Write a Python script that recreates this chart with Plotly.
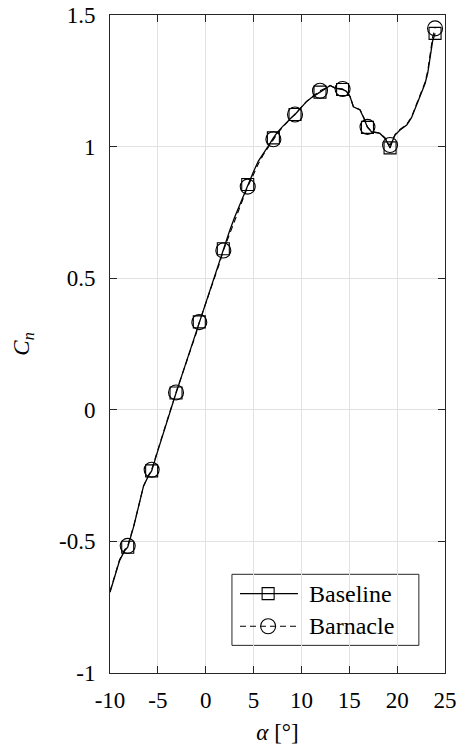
import plotly.graph_objects as go

# Normal-force coefficient vs angle of attack, sampled along the curves
alpha_base = [-10.0, -9.5, -9.0, -8.5, -8.15, -7.5, -7.0, -6.5, -6.0, -5.65,
              -5.0, -4.5, -4.0, -3.5, -3.1, -2.5, -2.0, -1.5, -1.0, -0.67,
              0.0, 0.5, 1.0, 1.5, 1.84, 2.5, 3.0, 3.5, 4.0, 4.39,
              5.0, 5.5, 6.0, 6.5, 7.07, 7.5, 8.0, 8.5, 9.0, 9.33,
              10.0, 10.5, 11.0, 11.5, 11.94, 12.5, 13.0, 13.5, 14.0, 14.3,
              14.7, 15.08, 15.43, 15.8, 16.12, 16.5, 16.9, 17.34, 17.8, 18.2,
              18.74, 19.0, 19.26, 19.5, 19.78, 20.3, 21.0, 21.5, 21.87, 22.4,
              22.92, 23.2, 23.44, 23.7, 23.96]
cn_base = [-0.693, -0.630, -0.573, -0.537, -0.522, -0.440, -0.360, -0.290, -0.252, -0.232,
           -0.155, -0.095, -0.040, 0.020, 0.064, 0.130, 0.185, 0.240, 0.295, 0.334,
           0.410, 0.465, 0.520, 0.575, 0.612, 0.680, 0.730, 0.775, 0.820, 0.856,
           0.905, 0.945, 0.975, 1.000, 1.033, 1.055, 1.075, 1.095, 1.112, 1.122,
           1.150, 1.170, 1.185, 1.198, 1.207, 1.220, 1.232, 1.222, 1.218, 1.217,
           1.210, 1.190, 1.151, 1.145, 1.139, 1.110, 1.073, 1.056, 1.052, 1.050,
           1.031, 1.010, 0.995, 1.020, 1.044, 1.063, 1.082, 1.110, 1.145, 1.190,
           1.240, 1.280, 1.335, 1.400, 1.430]

alpha_barn = [-10.0, -9.5, -9.0, -8.5, -8.15, -7.5, -7.0, -6.5, -6.0, -5.65,
              -5.0, -4.5, -4.0, -3.5, -3.1, -2.5, -2.0, -1.5, -1.0, -0.67,
              0.0, 0.5, 1.0, 1.5, 1.84, 2.5, 3.0, 3.5, 4.0, 4.39,
              5.0, 5.5, 6.0, 6.5, 7.07, 7.5, 8.0, 8.5, 9.0, 9.33,
              10.0, 10.5, 11.0, 11.5, 11.94, 12.5, 13.0, 13.5, 14.0, 14.3,
              14.7, 15.08, 15.43, 15.8, 16.12, 16.5, 16.9, 17.34, 17.8, 18.2,
              18.74, 19.0, 19.26, 19.5, 19.78, 20.3, 21.0, 21.5, 21.87, 22.4,
              22.92, 23.2, 23.44, 23.7, 23.96]
cn_barn = [-0.690, -0.628, -0.570, -0.533, -0.517, -0.438, -0.358, -0.290, -0.250, -0.228,
           -0.152, -0.093, -0.038, 0.022, 0.066, 0.130, 0.183, 0.237, 0.290, 0.333,
           0.402, 0.455, 0.508, 0.563, 0.605, 0.668, 0.718, 0.765, 0.810, 0.848,
           0.895, 0.935, 0.968, 0.996, 1.028, 1.050, 1.072, 1.092, 1.110, 1.122,
           1.150, 1.170, 1.186, 1.200, 1.212, 1.222, 1.232, 1.224, 1.220, 1.219,
           1.211, 1.190, 1.152, 1.146, 1.140, 1.112, 1.075, 1.058, 1.053, 1.051,
           1.033, 1.015, 1.006, 1.024, 1.046, 1.065, 1.084, 1.112, 1.148, 1.195,
           1.245, 1.288, 1.345, 1.415, 1.449]

# Angles at which the symbols are drawn
alpha_marks = [-8.15, -5.65, -3.1, -0.67, 1.84, 4.39, 7.07, 9.33, 11.94,
               14.3, 16.9, 19.26, 23.96]

series_names = ["Baseline", "Barnacle"]

x_ticks = [-10, -5, 0, 5, 10, 15, 20, 25]
x_ticktext = ["-10", "-5", "0", "5", "10", "15", "20", "25"]
y_ticks = [-1, -0.5, 0, 0.5, 1, 1.5]
y_ticktext = ["-1", "-0.5", "0", "0.5", "1", "1.5"]

FONT = "Liberation Serif"
INK = "#262626"
SOLID = dict(color="black", width=1.3)
DASHED = dict(color="black", width=1.1, dash="6px,4px")
SQUARE = dict(symbol="square-open", size=12, color="black", line=dict(width=1.1))
CIRCLE = dict(symbol="circle-open", size=15, color="black", line=dict(width=1.1))


def marks(alpha, cn):
    lookup = dict(zip(alpha, cn))
    return [lookup[a] for a in alpha_marks]


fig = go.Figure()

# Curves
fig.add_trace(go.Scatter(x=alpha_base, y=cn_base, mode="lines", line=SOLID,
                         name=series_names[0], showlegend=False))
fig.add_trace(go.Scatter(x=alpha_barn, y=cn_barn, mode="lines", line=DASHED,
                         name=series_names[1], showlegend=False))

# Symbols
fig.add_trace(go.Scatter(x=alpha_marks, y=marks(alpha_base, cn_base), mode="markers",
                         marker=SQUARE, name=series_names[0], showlegend=False))
fig.add_trace(go.Scatter(x=alpha_marks, y=marks(alpha_barn, cn_barn), mode="markers",
                         marker=CIRCLE, name=series_names[1], showlegend=False))

# Legend box drawn in plot-area fractions on an overlay axis pair
LEG_X0, LEG_X1, LEG_Y0, LEG_Y1 = 0.364, 0.922, 0.042, 0.150
SYM_X0, SYM_XM, SYM_X1, TXT_X = 0.388, 0.472, 0.561, 0.588
ROW_Y = [0.1207, 0.071]

for name, row_y, line, marker in zip(series_names, ROW_Y, [SOLID, DASHED], [SQUARE, CIRCLE]):
    fig.add_trace(go.Scatter(x=[SYM_X0, SYM_X1], y=[row_y, row_y], mode="lines",
                             line=line, xaxis="x2", yaxis="y2", showlegend=False,
                             hoverinfo="skip"))
    fig.add_trace(go.Scatter(x=[SYM_XM], y=[row_y], mode="markers", marker=marker,
                             xaxis="x2", yaxis="y2", showlegend=False, hoverinfo="skip"))
    fig.add_annotation(x=TXT_X, y=row_y, xref="paper", yref="paper", text=name,
                       showarrow=False, xanchor="left", yanchor="middle",
                       font=dict(family=FONT, size=24, color="black"))

# White legend frame: above the grid, beneath the traces
fig.add_shape(type="rect", xref="paper", yref="paper",
              x0=LEG_X0, x1=LEG_X1, y0=LEG_Y0, y1=LEG_Y1,
              line=dict(color=INK, width=1), fillcolor="white", layer="between")

axis_common = dict(
    showline=True, linecolor=INK, linewidth=1, mirror="ticks",
    ticks="inside", ticklen=7, tickcolor=INK, tickwidth=1,
    showgrid=True, gridcolor="#e1e1e1", gridwidth=1,
    zeroline=False, tickfont=dict(family=FONT, size=23, color="black"),
)

fig.update_xaxes(range=[-10, 25], tickvals=x_ticks, ticktext=x_ticktext,
                 title=dict(text="<i>α</i> [°]", font=dict(family=FONT, size=23, color="black"),
                            standoff=12),
                 ticklabelstandoff=6, **axis_common)
fig.update_yaxes(range=[-1, 1.5], tickvals=y_ticks, ticktext=y_ticktext,
                 title=dict(text="<i>C</i><sub><i>n</i></sub>",
                            font=dict(family=FONT, size=23, color="black"),
                            standoff=22),
                 ticklabelstandoff=9, **axis_common)

fig.update_layout(
    width=457, height=753,
    margin=dict(l=110, r=12, t=15, b=80, autoexpand=False),
    paper_bgcolor="white", plot_bgcolor="white",
    font=dict(family=FONT, size=23, color="black"),
    showlegend=False,
    xaxis2=dict(range=[0, 1], overlaying="x", visible=False, fixedrange=True),
    yaxis2=dict(range=[0, 1], overlaying="y", visible=False, fixedrange=True),
)

fig.write_html("out.html")
